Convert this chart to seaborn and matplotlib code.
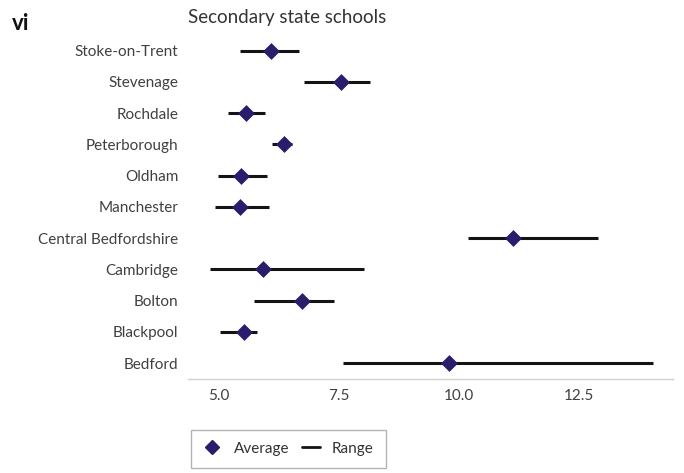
import matplotlib
matplotlib.use("Agg")
import matplotlib.pyplot as plt
import seaborn as sns
import pandas as pd
from matplotlib.lines import Line2D

sns.set_theme(style="white")
plt.rcParams['font.family'] = ['Lato', 'DejaVu Sans']

# Data
cities = ['Stoke-on-Trent', 'Stevenage', 'Rochdale', 'Peterborough', 'Oldham', 'Manchester',
          'Central Bedfordshire', 'Cambridge', 'Bolton', 'Blackpool', 'Bedford']
average = [6.08, 7.54, 5.56, 6.35, 5.46, 5.44, 11.13, 5.92, 6.73, 5.52, 9.79]
range_low = [5.44, 6.77, 5.19, 6.10, 4.98, 4.92, 10.19, 4.81, 5.73, 5.02, 7.58]
range_high = [6.67, 8.15, 5.96, 6.52, 6.00, 6.04, 12.90, 8.02, 7.40, 5.79, 14.04]
x_ticks = [5.0, 7.5, 10.0, 12.5]

df = pd.DataFrame({'city': cities, 'avg': average, 'lo': range_low, 'hi': range_high})

marker_col = '#2b1d6b'
line_col = '#141414'

fig = plt.figure(figsize=(6.84, 4.73), dpi=100)
ax = fig.add_axes([0.275, 0.199, 0.709, 0.727])

# range lines
ax.hlines(y=df['city'], xmin=df['lo'], xmax=df['hi'], color=line_col, linewidth=2.2, zorder=2)
# average markers
sns.scatterplot(data=df, x='avg', y='city', marker='D', s=65, color=marker_col,
                edgecolor=marker_col, linewidth=0.5, zorder=3, ax=ax, legend=False)

ax.set_ylim(len(cities) - 0.5, -0.5)
ax.set_xlim(4.35, 14.46)
ax.set_xticks(x_ticks)
ax.set_xticklabels([f"{t:.1f}" for t in x_ticks])
ax.set_xlabel('')
ax.set_ylabel('')
ax.tick_params(axis='both', length=0, labelsize=11, labelcolor='#404040', pad=7)

for s in ['top', 'right', 'left']:
    ax.spines[s].set_visible(False)
ax.spines['bottom'].set_color('#d0d0d0')
ax.spines['bottom'].set_linewidth(1)

fig.text(188 / 684, 1 - 17 / 473, 'Secondary state schools', fontsize=13.5, color='#333333',
         ha='left', va='center')
fig.text(12 / 684, 1 - 23 / 473, 'vi', fontsize=16, fontweight='bold', color='#111111',
         ha='left', va='center')

handles = [Line2D([0], [0], marker='D', color='none', markerfacecolor=marker_col,
                  markeredgecolor=marker_col, markersize=7, label='Average'),
           Line2D([0], [0], color=line_col, linewidth=2, label='Range')]
leg = fig.legend(handles=handles, loc='lower left', bbox_to_anchor=(188 / 684, 2 / 473),
                 ncol=2, frameon=True, fancybox=False, fontsize=11, handlelength=1.2,
                 columnspacing=0.8, handletextpad=0.8, borderpad=0.8, borderaxespad=0.2)
leg.get_frame().set_edgecolor('#a0a0a0')
leg.get_frame().set_linewidth(1)
for t in leg.get_texts():
    t.set_color('#333333')

fig.savefig('out.png', dpi=100)
